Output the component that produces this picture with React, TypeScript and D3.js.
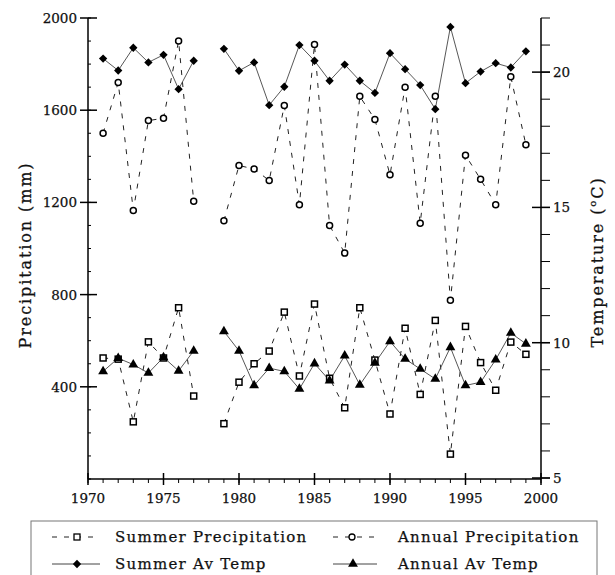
import React from "react";
import * as d3 from "d3";

const years = d3.range(1971, 2000);
const summerTemp: (number | null)[] = [20.5, 20.06, 20.9, 20.36, 20.64, 19.37, 20.42, null, 20.86, 20.05, 20.36, 18.78, 19.46, 21.0, 20.42, 19.68, 20.28, 19.68, 19.23, 20.7, 20.11, 19.52, 18.63, 21.67, 19.59, 20.02, 20.33, 20.17, 20.77];
const annualPrecip: (number | null)[] = [1500, 1720, 1165, 1555, 1565, 1900, 1205, null, 1120, 1360, 1345, 1295, 1620, 1190, 1885, 1100, 980, 1660, 1560, 1320, 1700, 1110, 1660, 775, 1405, 1300, 1190, 1745, 1450];
const summerPrecip: (number | null)[] = [525, 520, 248, 595, 525, 743, 360, null, 240, 420, 500, 555, 724, 447, 759, 437, 309, 743, 516, 282, 654, 367, 688, 108, 662, 505, 385, 594, 541];
const annualTemp: (number | null)[] = [8.94, 9.43, 9.19, 8.88, 9.46, 8.96, 9.7, null, 10.42, 9.7, 8.42, 9.06, 8.94, 8.29, 9.23, 8.6, 9.52, 8.44, 9.25, 10.05, 9.4, 9.03, 8.66, 9.83, 8.42, 8.54, 9.37, 10.36, 9.96];

const xTicks = [1970, 1975, 1980, 1985, 1990, 1995, 2000];
const precipTicks = [400, 800, 1200, 1600, 2000];
const tempTicks = [5, 10, 15, 20];

const FONT = "'DejaVu Serif', 'Liberation Serif', serif";

export default function App() {
  const x = d3.scaleLinear().domain([1970, 2000]).range([88, 541]);
  const yP = d3.scaleLinear().domain([0, 2000]).range([479, 18]);
  const yT = d3.scaleLinear().domain([5, 22]).range([478, 18]);

  const mkLine = (vals: (number | null)[], y: d3.ScaleLinear<number, number>) =>
    d3
      .line<number>()
      .defined((_, i) => vals[i] !== null)
      .x((d) => x(d))
      .y((_, i) => y(vals[i] as number))(years) || "";

  const diamond = d3.symbol().type(d3.symbolDiamond2).size(44)() || "";
  const triangle = d3.symbol().type(d3.symbolTriangle).size(42)() || "";

  const minorX = d3.range(1970, 2001);
  const minorP = d3.range(0, 2001, 100);
  const minorT = d3.range(5, 23, 1);

  const ink = { fill: "#111", stroke: "#111", strokeWidth: 0.25 };
  const tickText = { fontFamily: FONT, fontSize: 13.5, ...ink };
  const legText = { fontFamily: FONT, fontSize: 15, letterSpacing: 1.25, ...ink };
  const titleText = { fontFamily: FONT, fontSize: 16, letterSpacing: 1.9, ...ink };

  return (
    <svg width={615} height={575} style={{ position: "absolute", left: 0, top: 0, background: "#fff" }}>
      {/* lines */}
      <path d={mkLine(annualPrecip, yP)} fill="none" stroke="#222" strokeWidth={1} strokeDasharray="5,7" />
      <path d={mkLine(summerPrecip, yP)} fill="none" stroke="#222" strokeWidth={1} strokeDasharray="5,7" />
      <path d={mkLine(summerTemp, yT)} fill="none" stroke="#444" strokeWidth={0.9} />
      <path d={mkLine(annualTemp, yT)} fill="none" stroke="#444" strokeWidth={0.9} />

      {/* markers */}
      {years.map((yr, i) =>
        annualPrecip[i] !== null ? (
          <circle key={"ap" + yr} cx={x(yr)} cy={yP(annualPrecip[i] as number)} r={3} fill="#fff" stroke="#000" strokeWidth={1.5} />
        ) : null
      )}
      {years.map((yr, i) =>
        summerPrecip[i] !== null ? (
          <rect key={"sp" + yr} x={x(yr) - 3} y={yP(summerPrecip[i] as number) - 3} width={6} height={6} fill="#fff" stroke="#000" strokeWidth={1.5} />
        ) : null
      )}
      {years.map((yr, i) =>
        summerTemp[i] !== null ? (
          <path key={"st" + yr} d={diamond} transform={`translate(${x(yr)},${yT(summerTemp[i] as number)})`} fill="#000" />
        ) : null
      )}
      {years.map((yr, i) =>
        annualTemp[i] !== null ? (
          <path key={"at" + yr} d={triangle} transform={`translate(${x(yr)},${yT(annualTemp[i] as number)})`} fill="#000" />
        ) : null
      )}

      {/* x axis */}
      <line x1={x(1970)} x2={x(2000)} y1={479} y2={479} stroke="#000" strokeWidth={1.5} />
      {minorX.map((v) => (
        <line key={"mx" + v} x1={x(v)} x2={x(v)} y1={479} y2={483} stroke="#000" strokeWidth={1} />
      ))}
      {xTicks.map((v) => (
        <g key={"xt" + v}>
          <line x1={x(v)} x2={x(v)} y1={473} y2={485} stroke="#000" strokeWidth={1.5} />
          <text x={x(v)} y={503} textAnchor="middle" style={tickText}>
            {v}
          </text>
        </g>
      ))}

      {/* left axis */}
      <line x1={88} x2={88} y1={yP(2000)} y2={479} stroke="#000" strokeWidth={1.5} />
      {minorP.map((v) => (
        <line key={"mp" + v} x1={88} x2={91} y1={yP(v)} y2={yP(v)} stroke="#000" strokeWidth={1} />
      ))}
      {precipTicks.map((v) => (
        <g key={"pt" + v}>
          <line x1={80} x2={97} y1={yP(v)} y2={yP(v)} stroke="#000" strokeWidth={1.5} />
          <text x={77} y={yP(v) + 5} textAnchor="end" style={tickText}>
            {v}
          </text>
        </g>
      ))}

      {/* right axis */}
      <line x1={541} x2={541} y1={yT(22)} y2={479} stroke="#000" strokeWidth={1.5} />
      {minorT.map((v) => (
        <line key={"mt" + v} x1={541} x2={550} y1={yT(v)} y2={yT(v)} stroke="#000" strokeWidth={1} />
      ))}
      {tempTicks.map((v) => (
        <g key={"tt" + v}>
          <line x1={532} x2={550} y1={yT(v)} y2={yT(v)} stroke="#000" strokeWidth={1.5} />
          <text x={553} y={yT(v) + 5} textAnchor="start" style={tickText}>
            {v}
          </text>
        </g>
      ))}

      {/* axis titles */}
      <text transform="translate(31,255) rotate(-90)" textAnchor="middle" style={titleText}>
        Precipitation (mm)
      </text>
      <text transform="translate(603,262) rotate(-90)" textAnchor="middle" style={titleText}>
        Temperature (
        <tspan fontSize={10} dy={-7}>o</tspan>
        <tspan dy={7}>C)</tspan>
      </text>

      {/* legend */}
      <rect x={31} y={521} width={566} height={70} fill="none" stroke="#777" strokeWidth={1} />
      <g>
        <line x1={52} x2={100} y1={537} y2={537} stroke="#222" strokeWidth={1} strokeDasharray="5,7" />
        <rect x={74} y={534} width={6} height={6} fill="#fff" stroke="#000" strokeWidth={1.3} />
        <text x={115} y={542} style={legText}>Summer Precipitation</text>

        <line x1={333} x2={377} y1={537} y2={537} stroke="#222" strokeWidth={1} strokeDasharray="5,7" />
        <circle cx={352} cy={537} r={3} fill="#fff" stroke="#000" strokeWidth={1.3} />
        <text x={398} y={542} style={legText}>Annual Precipitation</text>

        <line x1={52} x2={100} y1={564} y2={564} stroke="#444" strokeWidth={1} />
        <path d={diamond} transform="translate(77,564)" fill="#000" />
        <text x={115} y={569} style={legText}>Summer Av Temp</text>

        <line x1={333} x2={377} y1={564} y2={564} stroke="#444" strokeWidth={1} />
        <path d={triangle} transform="translate(353,564)" fill="#000" />
        <text x={398} y={569} style={legText}>Annual Av Temp</text>
      </g>
    </svg>
  );
}
